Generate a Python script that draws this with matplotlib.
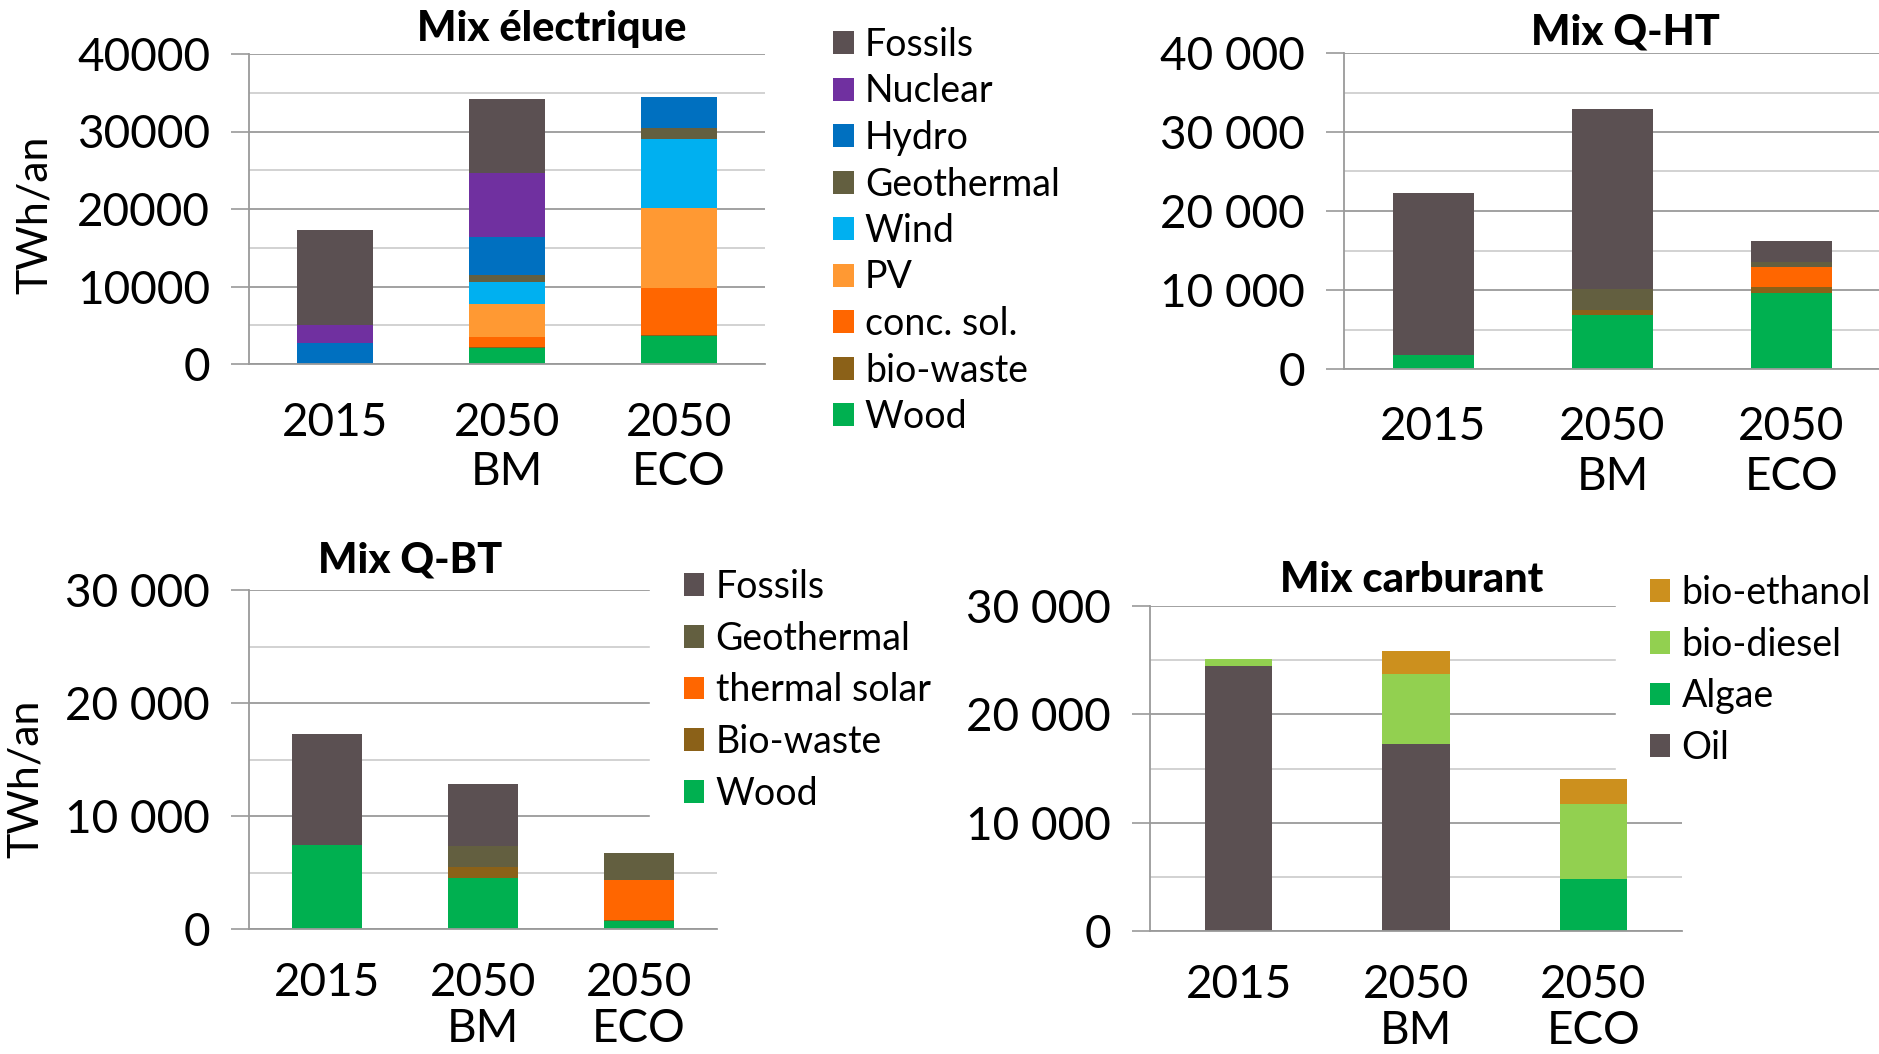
import numpy as np
import matplotlib
matplotlib.use('Agg')
import matplotlib.pyplot as plt
from matplotlib.ticker import MultipleLocator, FuncFormatter

plt.rcParams['font.family'] = ['Lato', 'DejaVu Sans']

years = ['2015', '2050\nBM', '2050\nECO']

# Mix électrique (TWh/an) - stacked bottom to top
elec_names = ['Wood', 'bio-waste', 'conc. sol.', 'PV', 'Wind', 'Geothermal', 'Hydro', 'Nuclear', 'Fossils']
elec_wood = [0, 2020, 3580]
elec_biowaste = [0, 220, 210]
elec_concsol = [0, 1290, 6030]
elec_pv = [0, 4180, 10250]
elec_wind = [0, 2930, 8910]
elec_geo = [0, 900, 1420]
elec_hydro = [2750, 4820, 4090]
elec_nuclear = [2330, 8230, 0]
elec_fossils = [12150, 9600, 0]

# Mix Q-HT
qht_names = ['Wood', 'Bio-waste', 'thermal solar', 'Geothermal', 'Fossils']
qht_wood = [1810, 6820, 9640]
qht_biowaste = [0, 670, 760]
qht_solar = [0, 0, 2480]
qht_geo = [0, 2650, 630]
qht_fossils = [20420, 22740, 2690]

# Mix Q-BT
qbt_names = ['Wood', 'Bio-waste', 'thermal solar', 'Geothermal', 'Fossils']
qbt_wood = [7400, 4530, 710]
qbt_biowaste = [0, 920, 90]
qbt_solar = [0, 0, 3580]
qbt_geo = [0, 1860, 2310]
qbt_fossils = [9820, 5500, 0]

# Mix carburant
fuel_names = ['Oil', 'Algae', 'bio-diesel', 'bio-ethanol']
fuel_oil = [24490, 17230, 0]
fuel_algae = [0, 0, 4770]
fuel_diesel = [620, 6490, 6950]
fuel_ethanol = [0, 2150, 2310]

colors = {
    'Fossils': '#5B5052', 'Oil': '#5B5052',
    'Nuclear': '#7030A0', 'Hydro': '#0070C0',
    'Geothermal': '#635F40', 'Wind': '#00B0F0',
    'PV': '#FF9933', 'conc. sol.': '#FF6600', 'thermal solar': '#FF6600',
    'bio-waste': '#8B6118', 'Bio-waste': '#8B6118',
    'Wood': '#00B050', 'Algae': '#00B050',
    'bio-diesel': '#92D050', 'bio-ethanol': '#CC901E',
}

W, H = 1879, 1054
fig = plt.figure(figsize=(W / 100, H / 100), dpi=100)


def box(l, t, r, b):
    return [l / W, 1 - b / H, (r - l) / W, (b - t) / H]


def stacked(rect, names, series, ymax, spaced, width, xpad=27, lsp=1.22):
    ax = fig.add_axes(rect)
    x = np.arange(len(years))
    bottom = np.zeros(len(years))
    handles = []
    for name, vals in zip(names, series):
        vals = np.array(vals, dtype=float)
        h = ax.bar(x, vals, width, bottom=bottom, color=colors[name], label=name,
                   zorder=2, edgecolor='none')
        handles.append(h)
        bottom += vals
    ax.set_xlim(-0.5, 2.5)
    ax.set_ylim(0, ymax)
    ax.set_xticks(x)
    ax.set_xticklabels(years, fontsize=33, linespacing=lsp)
    ax.yaxis.set_major_locator(MultipleLocator(10000))
    ax.yaxis.set_minor_locator(MultipleLocator(5000))
    if spaced:
        fmt = FuncFormatter(lambda v, p: f'{int(v):,}'.replace(',', ' '))
    else:
        fmt = FuncFormatter(lambda v, p: f'{int(v)}')
    ax.yaxis.set_major_formatter(fmt)
    ax.tick_params(axis='y', which='major', length=13, width=1.2, color='#999999',
                   labelsize=33, pad=15)
    ax.tick_params(axis='y', which='minor', length=0)
    ax.tick_params(axis='x', length=0, pad=xpad)
    ax.set_axisbelow(True)
    ax.grid(axis='y', which='major', color='#9a9a9a', lw=1.3)
    ax.grid(axis='y', which='minor', color='#cfcfcf', lw=1.3)
    for s in ['top', 'right']:
        ax.spines[s].set_visible(False)
    ax.spines['left'].set_color('#9a9a9a')
    ax.spines['bottom'].set_color('#9a9a9a')
    ax.spines['left'].set_linewidth(1.3)
    ax.spines['bottom'].set_linewidth(1.3)
    return ax, handles


legend_kw = dict(fontsize=27, handlelength=0.55, handleheight=0.55, handletextpad=0.3,
                 borderaxespad=0, frameon=True, facecolor='white', edgecolor='white',
                 framealpha=1)
title_kw = dict(ha='center', va='center', fontsize=30, fontweight='black')

# Mix électrique
ax1, h1 = stacked(box(249, 54, 765, 364), elec_names,
                  [elec_wood, elec_biowaste, elec_concsol, elec_pv, elec_wind,
                   elec_geo, elec_hydro, elec_nuclear, elec_fossils],
                  40000, False, 0.44)
leg1 = ax1.legend(h1[::-1], elec_names[::-1], loc='upper left',
                  bbox_to_anchor=(833 / W, 1 - 27 / H), bbox_transform=fig.transFigure,
                  labelspacing=0.28, borderpad=0, **legend_kw)
leg1.set_zorder(1.5)
fig.text(552 / W, 1 - 29 / H, 'Mix électrique', **title_kw)
fig.text(35 / W, 1 - 215 / H, 'TWh/an', rotation=90, ha='center', va='center', fontsize=31)

# Mix Q-HT
ax2, h2 = stacked(box(1344, 53, 1881, 369), qht_names,
                  [qht_wood, qht_biowaste, qht_solar, qht_geo, qht_fossils],
                  40000, True, 0.45)
fig.text(1625 / W, 1 - 32 / H, 'Mix Q-HT', **title_kw)

# Mix Q-BT
ax3, h3 = stacked(box(249, 590, 717, 929), qbt_names,
                  [qbt_wood, qbt_biowaste, qbt_solar, qbt_geo, qbt_fossils],
                  30000, True, 0.45, xpad=24, lsp=1.12)
leg3 = ax3.legend(h3[::-1], ['Fossils', 'Geothermal', 'thermal solar', 'Bio-waste', 'Wood'],
                  loc='upper left', bbox_to_anchor=(650 / W, 1 - 535 / H),
                  bbox_transform=fig.transFigure, labelspacing=0.42, borderpad=0.9,
                  **legend_kw)
leg3.set_zorder(1.5)
fig.text(410 / W, 1 - 560 / H, 'Mix Q-BT', **title_kw)
fig.text(26 / W, 1 - 779 / H, 'TWh/an', rotation=90, ha='center', va='center', fontsize=31)

# Mix carburant
ax4, h4 = stacked(box(1150, 606, 1682, 931), fuel_names,
                  [fuel_oil, fuel_algae, fuel_diesel, fuel_ethanol],
                  30000, True, 0.38, xpad=24, lsp=1.12)
leg4 = ax4.legend(h4[::-1], fuel_names[::-1], loc='upper left',
                  bbox_to_anchor=(1616 / W, 1 - 541 / H), bbox_transform=fig.transFigure,
                  labelspacing=0.42, borderpad=0.9, **legend_kw)
leg4.set_zorder(1.5)
fig.text(1412 / W, 1 - 580 / H, 'Mix carburant', **title_kw)

fig.savefig('out.png', dpi=100)
